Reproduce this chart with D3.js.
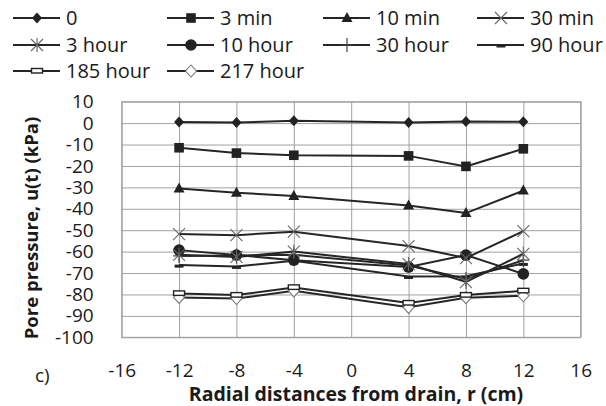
<!DOCTYPE html>
<html>
<head>
<meta charset="utf-8">
<script src="https://cdn.jsdelivr.net/npm/d3@7"></script>
<style>
  body { margin: 0; background: #fff; }
  #canvas { width: 606px; height: 406px; }
  text { font-family: "Open Sans", sans-serif; fill: #1a1a1a; }
</style>
</head>
<body>
<div id="canvas"></div>
<script>
// radial positions (cm)
var radii = [-12, -8, -4, 4, 8, 12];

// pore pressure (kPa), one array per elapsed time
var p_0      = [0.5, 0.3, 1.1, 0.3, 0.8, 0.6];
var p_3min   = [-11.5, -14, -15, -15.3, -20.2, -12];
var p_10min  = [-30.5, -32.5, -34, -38.5, -42, -31.5];
var p_30min  = [-51.8, -52.3, -50.7, -57.4, -63, -50.4];
var p_3h     = [-61.5, -62.5, -60, -65.8, -74.2, -61];
var p_10h    = [-59.3, -61.6, -64, -67.2, -61.6, -70.4];
var p_30h    = [-62, -61.8, -61.5, -66.5, -72.8, -64];
var p_90h    = [-66.3, -66.9, -64.3, -71.6, -71.5, -65.5];
var p_185h   = [-79.5, -80.3, -76.7, -84, -80.3, -78.3];
var p_217h   = [-81.4, -81.9, -78.3, -86, -81.5, -80.6];

var names = ["0", "3 min", "10 min", "30 min", "3 hour", "10 hour", "30 hour", "90 hour", "185 hour", "217 hour"];
var shapes = ["diamond", "square", "triangle", "times", "asterisk", "circle", "plus", "dash", "bar", "odiamond"];

var xTicks = [-16, -12, -8, -4, 0, 4, 8, 12, 16];
var yTicks = [10, 0, -10, -20, -30, -40, -50, -60, -70, -80, -90, -100];

var width = 606, height = 406;
var plotL = 121.7, plotR = 580.7, plotT = 101.7, plotB = 337.3;

var svg = d3.select("#canvas").append("svg")
	.attr("width", width)
	.attr("height", height);

var x = d3.scaleLinear().domain([-16, 16]).range([plotL, plotR]);
var y = d3.scaleLinear().domain([-100, 10]).range([plotB, plotT]);

var plain = function(d){ return String(d); };

// grid + tick labels
var gy = svg.append("g")
	.attr("transform", "translate(" + plotL + ",0)")
	.call(d3.axisLeft(y).tickValues(yTicks).tickFormat(plain).tickSize(-(plotR - plotL)).tickPadding(28));
gy.select(".domain").remove();
gy.selectAll("line").attr("stroke", "#a0a0a0").attr("stroke-width", 1);
gy.selectAll("text").style("font-size", "19px").attr("fill", "#1a1a1a");

var gx = svg.append("g")
	.attr("transform", "translate(0," + plotB + ")")
	.call(d3.axisBottom(x).tickValues(xTicks).tickFormat(plain).tickSize(-(plotB - plotT)).tickPadding(26));
gx.select(".domain").remove();
gx.selectAll("line").attr("stroke", "#a0a0a0").attr("stroke-width", 1);
gx.selectAll("text").style("font-size", "19px").attr("fill", "#1a1a1a");

svg.append("rect")
	.attr("x", plotL).attr("y", plotT)
	.attr("width", plotR - plotL).attr("height", plotB - plotT)
	.attr("fill", "none").attr("stroke", "#a0a0a0");

// marker drawing
var drawMarker = function(g, shape){
	if(shape == "diamond"){
		g.append("path").attr("d", "M0,-5.5L5,0L0,5.5L-5,0Z").attr("fill", "#222");
	}else if(shape == "square"){
		g.append("rect").attr("x", -4.8).attr("y", -4.8).attr("width", 9.6).attr("height", 9.6).attr("fill", "#222");
	}else if(shape == "triangle"){
		g.append("path").attr("d", "M0,-6L5.5,4L-5.5,4Z").attr("fill", "#222");
	}else if(shape == "times"){
		g.append("path").attr("d", "M-6,-6L6,6M-6,6L6,-6").attr("stroke", "#666").attr("stroke-width", 1.1);
	}else if(shape == "asterisk"){
		g.append("path").attr("d", "M-6,-6L6,6M-6,6L6,-6M0,-7L0,7").attr("stroke", "#666").attr("stroke-width", 1.1);
	}else if(shape == "circle"){
		g.append("circle").attr("r", 5.8).attr("fill", "#222");
	}else if(shape == "plus"){
		g.append("path").attr("d", "M0,-7L0,7M-6,0L6,0").attr("stroke", "#444").attr("stroke-width", 1.2);
	}else if(shape == "dash"){
		g.append("rect").attr("x", -4.5).attr("y", -0.5).attr("width", 9).attr("height", 3).attr("fill", "#222");
	}else if(shape == "bar"){
		g.append("rect").attr("x", -5.5).attr("y", -2.5).attr("width", 11).attr("height", 4.5)
			.attr("fill", "#fff").attr("stroke", "#222").attr("stroke-width", 1.4);
	}else if(shape == "odiamond"){
		g.append("path").attr("d", "M0,-6L5.5,0L0,6L-5.5,0Z").attr("fill", "#fff").attr("stroke", "#777").attr("stroke-width", 1.1);
	}
}

var series = [p_0, p_3min, p_10min, p_30min, p_3h, p_10h, p_30h, p_90h, p_185h, p_217h];

var line = d3.line()
	.x(function(d){ return x(d[0]); })
	.y(function(d){ return y(d[1]); });

// draw from last to first so early series sit on top
for(var i = series.length - 1; i >= 0; i--){
	var pts = radii.map(function(r, j){ return [r, series[i][j]]; });
	var sg = svg.append("g").attr("class", "series");
	sg.append("path")
		.attr("d", line(pts))
		.attr("fill", "none")
		.attr("stroke", "#262626")
		.attr("stroke-width", 2);
	for(var j = 0; j < pts.length; j++){
		var mg = sg.append("g").attr("transform", "translate(" + x(pts[j][0]) + "," + y(pts[j][1]) + ")");
		drawMarker(mg, shapes[i]);
	}
}

// legend
var legX = [13, 167, 323, 477];
var legY = [18, 45, 71];
for(var k = 0; k < names.length; k++){
	var lx = legX[k % 4], ly = legY[Math.floor(k / 4)];
	var lg = svg.append("g").attr("transform", "translate(" + lx + "," + ly + ")");
	lg.append("line").attr("x1", 0).attr("x2", 47).attr("y1", 0).attr("y2", 0)
		.attr("stroke", "#262626").attr("stroke-width", 2);
	var mg = lg.append("g").attr("transform", "translate(24,0)");
	drawMarker(mg, shapes[k]);
	lg.append("text").attr("x", 53).attr("y", 0).attr("dy", "0.35em")
		.style("font-size", "20px").text(names[k]);
}

// axis titles
svg.append("text")
	.attr("x", 356).attr("y", 401)
	.attr("text-anchor", "middle")
	.style("font-size", "19.5px").style("font-weight", "bold")
	.text("Radial distances from drain, r (cm)");

svg.append("text")
	.attr("transform", "translate(38,228) rotate(-90)")
	.attr("text-anchor", "middle")
	.style("font-size", "18.5px").style("font-weight", "bold")
	.text("Pore pressure, u(t) (kPa)");

svg.append("text")
	.attr("x", 35).attr("y", 382)
	.style("font-size", "19px")
	.text("c)");
</script>
</body>
</html>
